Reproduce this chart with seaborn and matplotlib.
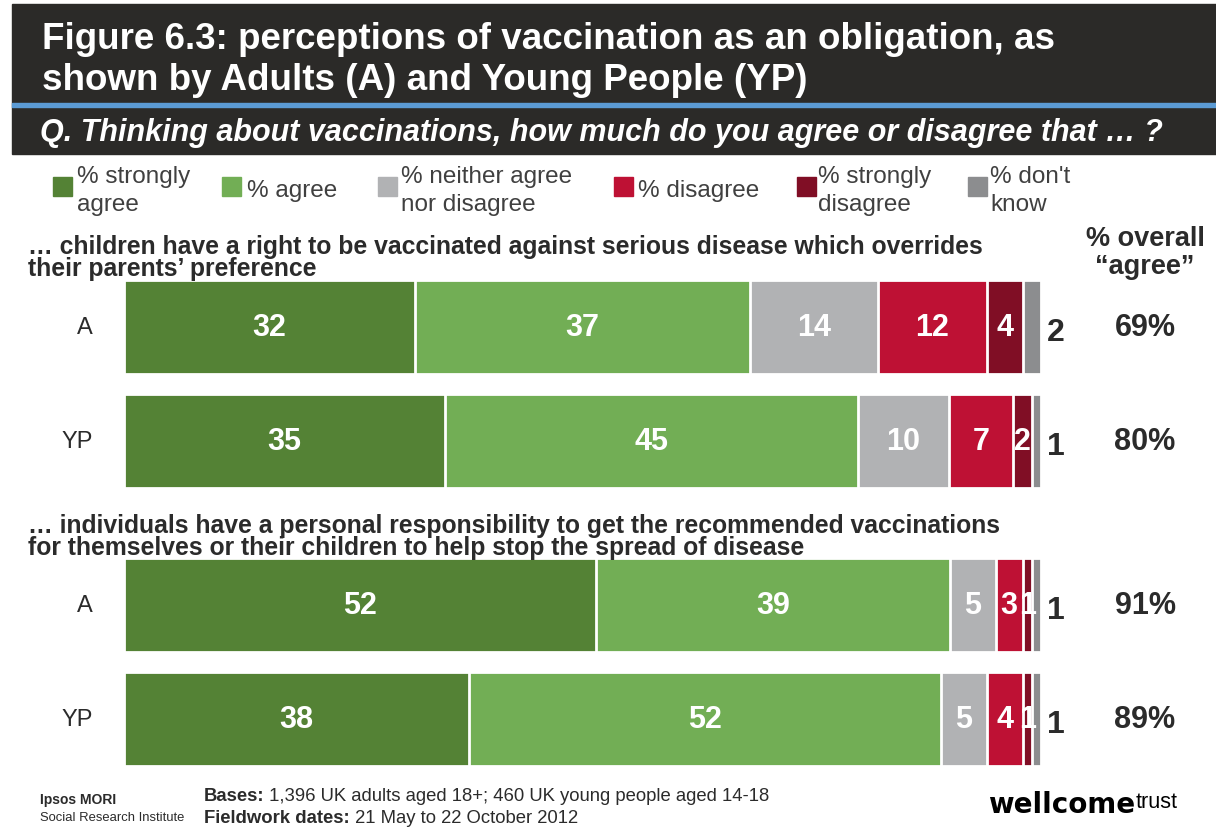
import numpy as np
import pandas as pd
import seaborn as sns
import matplotlib.pyplot as plt
from matplotlib.patches import Rectangle
from matplotlib import transforms

# ---- data ----
categories = ["% strongly\nagree", "% agree", "% neither agree\nnor disagree",
              "% disagree", "% strongly\ndisagree", "% don't\nknow"]
colors = ["#548235", "#72ae55", "#b1b2b4", "#be1134", "#800e25", "#8c8d8f"]

row_labels = ["A", "YP", "A", "YP"]
strongly_agree = [32, 35, 52, 38]
agree = [37, 45, 39, 52]
neither = [14, 10, 5, 5]
disagree = [12, 7, 3, 4]
strongly_disagree = [4, 2, 1, 1]
dont_know = [2, 1, 1, 1]
overall_agree = ["69%", "80%", "91%", "89%"]

statements = [
    "… children have a right to be vaccinated against serious disease which overrides\ntheir parents’ preference",
    "… individuals have a personal responsibility to get the recommended vaccinations\nfor themselves or their children to help stop the spread of disease",
]
title = "Figure 6.3: perceptions of vaccination as an obligation, as\nshown by Adults (A) and Young People (YP)"
question = "Q. Thinking about vaccinations, how much do you agree or disagree that … ?"

# ---- setup ----
W, H = 1216, 828
sns.set_style("white")
plt.rcParams['font.family'] = ['Liberation Sans', 'DejaVu Sans']
DARK = "#2b2b2b"

def fx(x):
    return x / W

def fy(y):
    return 1 - y / H

fig = plt.figure(figsize=(W / 100, H / 100), dpi=100)

# title band
fig.add_artist(Rectangle((fx(12), fy(155)), 1 - fx(12), fy(5) - fy(155),
                         transform=fig.transFigure, color="#2b2a28", zorder=0))
fig.add_artist(Rectangle((fx(12), fy(108)), 1 - fx(12), fy(104) - fy(108),
                         transform=fig.transFigure, color="#5b9bd5", zorder=1))
fig.text(fx(42), fy(60), title, color="white", fontsize=26.5, fontweight="bold",
         ha="left", va="center", linespacing=1.24)
fig.text(fx(40), fy(133), question, color="white", fontsize=22, fontweight="bold",
         style="italic", ha="left", va="center")

# legend
sq_x = [53, 222, 378, 614, 797, 968]
tx_x = [77, 247, 401, 638, 818, 990]
for k, cat in enumerate(categories):
    fig.add_artist(Rectangle((fx(sq_x[k]), fy(197)), fx(19), fy(178) - fy(197),
                             transform=fig.transFigure, color=colors[k]))
    fig.text(fx(tx_x[k]), fy(191), cat, color="#404040", fontsize=17.5,
             ha="left", va="center", linespacing=1.3)

# ---- bars ----
df = pd.DataFrame({"row": row_labels, "sa": strongly_agree, "a": agree, "n": neither,
                   "d": disagree, "sd": strongly_disagree, "dk": dont_know})
vals = df[["sa", "a", "n", "d", "sd", "dk"]].to_numpy(float)
share = vals / vals.sum(axis=1, keepdims=True) * 100
cum = share.cumsum(axis=1)
y_pos = np.array([0, 1, 2.44, 3.44])

ax = fig.add_axes([fx(124), fy(780), fx(917), fy(270) - fy(780)])
for k in range(5, -1, -1):
    sns.barplot(x=cum[:, k], y=y_pos, orient="h", native_scale=True, color=colors[k],
                saturation=1, width=0.82, edgecolor="white", linewidth=2,
                errorbar=None, ax=ax)
ax.set_xlim(0, 100)
ax.set_ylim(3.965, -0.5088)
ax.axis("off")

for i in range(len(row_labels)):
    for k in range(5):
        left = cum[i, k] - share[i, k]
        t = ax.text(left + share[i, k] / 2, y_pos[i], str(int(vals[i, k])),
                    color="white", fontsize=22, fontweight="bold",
                    ha="center", va="center")
        t.set_clip_path(Rectangle((left, y_pos[i] - 0.41), share[i, k], 0.82,
                                  transform=ax.transData))
    ax.text(100.6, y_pos[i] + 0.04, str(int(vals[i, 5])), color=DARK, fontsize=23,
            fontweight="bold", ha="left", va="center", clip_on=False)

tr = transforms.blended_transform_factory(fig.transFigure, ax.transData)
for i, lab in enumerate(row_labels):
    ax.text(fx(93), y_pos[i], lab, transform=tr, color=DARK, fontsize=17,
            ha="right", va="center", clip_on=False)
    ax.text(fx(1145), y_pos[i], overall_agree[i], transform=tr, color=DARK,
            fontsize=22, fontweight="bold", ha="center", va="center", clip_on=False)

fig.text(fx(1145), fy(253), "% overall\n“agree”", color=DARK, fontsize=19.5,
         fontweight="bold", ha="center", va="center", linespacing=1.05)
fig.text(fx(28), fy(258), statements[0], color=DARK, fontsize=17.8,
         fontweight="bold", ha="left", va="center", linespacing=0.93)
fig.text(fx(28), fy(537), statements[1], color=DARK, fontsize=17.8,
         fontweight="bold", ha="left", va="center", linespacing=0.93)

# ---- footer ----
fig.text(fx(40), fy(800), "Ipsos MORI", color=DARK, fontsize=10,
         fontweight="bold", ha="left", va="center")
fig.text(fx(40), fy(818), "Social Research Institute", color=DARK, fontsize=9.4,
         ha="left", va="center")
t1 = fig.text(fx(204), fy(797), "Bases:", color=DARK, fontsize=13.3,
              fontweight="bold", ha="left", va="center")
t2 = fig.text(fx(204), fy(819), "Fieldwork dates:", color=DARK, fontsize=13.3,
              fontweight="bold", ha="left", va="center")
ax.annotate(" 1,396 UK adults aged 18+; 460 UK young people aged 14-18",
            xy=(1, 0.5), xycoords=t1, color=DARK, fontsize=13.3,
            ha="left", va="center", annotation_clip=False)
ax.annotate(" 21 May to 22 October 2012", xy=(1, 0.5), xycoords=t2, color=DARK,
            fontsize=13.3, ha="left", va="center", annotation_clip=False)

tw = fig.text(fx(988), fy(813), "wellcome", color="black", fontsize=20,
              fontweight="heavy", family="DejaVu Sans", ha="left", va="baseline")
ax.annotate("trust", xy=(1, 0), xycoords=tw, color="black", fontsize=15.5,
            ha="left", va="bottom", xytext=(0, 4), textcoords="offset points",
            annotation_clip=False)

fig.savefig("out.png", dpi=100)
